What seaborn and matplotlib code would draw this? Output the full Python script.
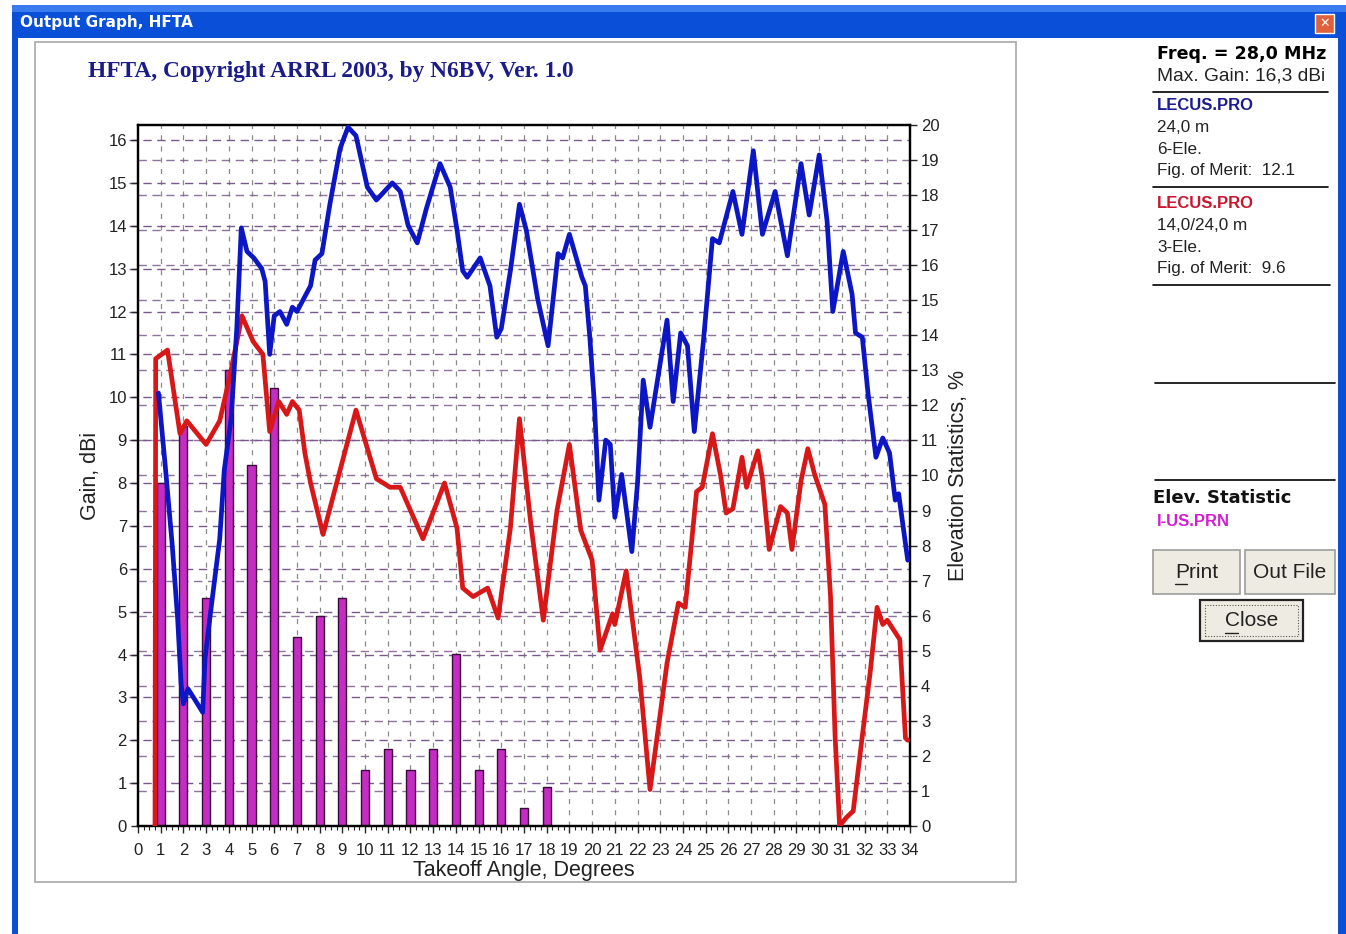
import numpy as np
import pandas as pd
import matplotlib
matplotlib.use("Agg")
import matplotlib.pyplot as plt
import matplotlib.transforms as mtransforms
from matplotlib.patches import Rectangle
from matplotlib.lines import Line2D
import seaborn as sns

# blue curve: 24,0 m 6-Ele. (gain, dBi vs takeoff angle)
blue_angle = [0.9, 1.2, 1.5, 1.75, 1.9, 2.0, 2.2, 2.5, 2.85, 2.95, 3.2, 3.6, 3.8, 4.1, 4.35,
              4.55, 4.8, 5.1, 5.45, 5.6, 5.8, 6.0, 6.25, 6.55, 6.8, 7.0, 7.6, 7.8, 8.1, 8.45,
              8.9, 9.25, 9.6, 10.1, 10.5, 11.2, 11.55, 11.9, 12.3, 12.7, 13.3, 13.75, 14.05,
              14.3, 14.5, 15.07, 15.5, 15.8, 16.0, 16.4, 16.8, 17.1, 17.6, 18.06, 18.5, 18.7,
              19.0, 19.55, 19.7, 19.9, 20.1, 20.3, 20.6, 20.8, 21.0, 21.3, 21.75, 22.0, 22.25,
              22.55, 23.3, 23.57, 23.9, 24.2, 24.5, 24.9, 25.3, 25.6, 26.2, 26.6, 27.1, 27.5,
              28.06, 28.6, 29.2, 29.56, 30.0, 30.35, 30.6, 31.06, 31.45, 31.6, 31.9, 32.15,
              32.5, 32.8, 33.1, 33.35, 33.5, 33.9]
blue_gain = [10.1, 8.4, 6.6, 4.8, 3.3, 2.85, 3.2, 2.95, 2.65, 3.9, 5.0, 6.7, 8.3, 9.5, 11.6,
             13.95, 13.4, 13.25, 13.0, 12.7, 11.0, 11.9, 12.0, 11.7, 12.1, 12.0, 12.6, 13.2, 13.35, 14.5,
             15.8, 16.3, 16.1, 14.9, 14.6, 15.0, 14.8, 14.0, 13.6, 14.4, 15.45, 14.9, 13.9,
             12.95, 12.8, 13.25, 12.6, 11.4, 11.6, 12.95, 14.5, 13.9, 12.3, 11.2, 13.35, 13.25,
             13.8, 12.8, 12.6, 11.4, 9.85, 7.6, 9.0, 8.9, 7.2, 8.2, 6.4, 8.0, 10.4,
             9.3, 11.8, 9.9, 11.5, 11.2, 9.2, 11.3, 13.7, 13.6, 14.8, 13.8, 15.75, 13.8,
             14.8, 13.3, 15.45, 14.25, 15.65, 14.1, 12.0, 13.4, 12.4, 11.5, 11.4, 10.1,
             8.6, 9.05, 8.7, 7.6, 7.75, 6.2]

# red curve: 14,0/24,0 m 3-Ele.
red_angle = [0.75, 0.78, 1.3, 1.85, 2.15, 3.0, 3.6, 4.05, 4.58, 5.07, 5.5, 5.8, 6.2, 6.55, 6.8,
             7.1, 7.35, 7.6, 8.15, 9.6, 10.5, 11.1, 11.55, 12.55, 13.5, 14.05, 14.3, 14.76, 15.4,
             15.86, 16.4, 16.8, 17.3, 17.85, 18.45, 19.0, 19.5, 20.0, 20.35, 20.9, 21.0, 21.5,
             22.1, 22.55, 23.3, 23.8, 24.1, 24.6, 24.85, 25.3, 25.65, 25.9, 26.2, 26.6, 26.8,
             27.3, 27.5, 27.8, 28.3, 28.6, 28.8, 29.2, 29.5, 29.8, 30.25, 30.5, 30.7, 30.9,
             31.2, 31.5, 31.9, 32.25, 32.55, 32.8, 33.0, 33.55, 33.8, 33.9]
red_gain = [0.0, 10.9, 11.1, 9.15, 9.45, 8.9, 9.45, 10.5, 11.9, 11.3, 11.0, 9.2, 9.9, 9.6, 9.9,
            9.7, 8.7, 8.0, 6.8, 9.7, 8.1, 7.9, 7.9, 6.7, 8.0, 6.95, 5.55, 5.35, 5.55,
            4.85, 6.95, 9.5, 7.05, 4.8, 7.35, 8.9, 6.9, 6.2, 4.1, 4.95, 4.7, 5.95,
            3.45, 0.85, 3.8, 5.2, 5.1, 7.8, 7.9, 9.15, 8.2, 7.3, 7.4, 8.6, 7.9,
            8.75, 8.1, 6.45, 7.45, 7.3, 6.45, 8.05, 8.8, 8.2, 7.5, 5.35, 2.1, 0.0,
            0.2, 0.35, 2.1, 3.6, 5.1, 4.7, 4.8, 4.35, 2.05, 2.0]

# elevation statistics, % (I-US.PRN)
elev_angle = list(range(1, 19))
elev_pct = [9.8, 11.4, 6.5, 13.0, 10.3, 12.5, 5.4, 6.0, 6.5, 1.6, 2.2, 1.6, 2.2, 4.9, 1.6, 2.2, 0.5, 1.1]

x_ticks = list(range(0, 35))
gain_ticks = list(range(0, 17))
pct_ticks = list(range(0, 21))

BLUE = "#0c16c4"
RED = "#d81818"
BAR = "#c42cc4"
GRID_H = "#7a5a8c"
GRID_V = "#8a8a8a"

sns.set_style("white")
plt.rcParams["font.family"] = ["Liberation Sans", "DejaVu Sans"]

W, H = 1346, 934
fig = plt.figure(figsize=(W / 100, H / 100), dpi=100)
fig.patch.set_facecolor("white")


def fx(x):
    return x / W


def fy(y):
    return 1 - y / H


def rect(x0, y0, x1, y1, **kw):
    r = Rectangle((fx(x0), fy(y1)), fx(x1) - fx(x0), fy(y0) - fy(y1),
                  transform=fig.transFigure, **kw)
    fig.add_artist(r)
    return r


def hline(x0, x1, y, **kw):
    fig.add_artist(Line2D([fx(x0), fx(x1)], [fy(y), fy(y)], transform=fig.transFigure, **kw))


# window chrome
rect(12, 5, W, H, facecolor="#0a4fd8", edgecolor="none", zorder=0.1)
rect(12, 5, W, 12, facecolor="#3a7cf0", edgecolor="none", zorder=0.15)
rect(18, 38, 1338, H, facecolor="white", edgecolor="none", zorder=0.2)
fig.text(fx(20), fy(23), "Output Graph, HFTA", color="white", fontsize=11,
         fontweight="bold", family="DejaVu Sans", va="center", ha="left")
rect(1315, 14, 1334, 33, facecolor="#e0603a", edgecolor="white", linewidth=1, zorder=0.3)
fig.text(fx(1324.5), fy(23.5), "\u2715", color="white", fontsize=9, family="DejaVu Sans",
         ha="center", va="center", fontweight="bold")

# chart panel
rect(35, 42, 1016, 882, facecolor="white", edgecolor="#a8a8a8", linewidth=1.2, zorder=0.5)
fig.text(fx(88), fy(72), "HFTA, Copyright ARRL 2003, by N6BV, Ver. 1.0", color="#1c1c88",
         fontsize=16.8, fontweight="bold", family="Liberation Serif", va="center", ha="left")

# axes: ax2 (bars, grid) below, ax (gain lines) on top
ax2 = fig.add_axes([fx(138), fy(826), fx(910) - fx(138), fy(125) - fy(826)])
ax = fig.add_axes(ax2.get_position(), sharex=ax2)
ax.set_zorder(6)
ax2.set_zorder(5)
ax.patch.set_visible(False)
ax2.patch.set_visible(False)

ax.set_xlim(0, 34)
ax.set_ylim(0, 16.35)
ax2.set_ylim(0, 20)

# grid on the bottom layer
for a in x_ticks[1:-1]:
    ax2.axvline(a, color=GRID_V, linestyle=(0, (4, 5)), linewidth=0.9, zorder=0)
tr = mtransforms.blended_transform_factory(ax2.transAxes, ax.transData)
for g in gain_ticks[1:]:
    ax2.plot([-0.012, 1], [g, g], transform=tr, color=GRID_H, linestyle=(0, (6, 4)),
             linewidth=1.0, zorder=0, clip_on=False)
for p in pct_ticks[1:-1]:
    ax2.axhline(p, color=GRID_H, linestyle=(0, (6, 4)), linewidth=1.0, zorder=0, alpha=0.85)

# bars
sns.barplot(x=elev_angle, y=elev_pct, native_scale=True, width=0.36, color=BAR,
            saturation=1, edgecolor="#3a0a3a", linewidth=1.0, errorbar=None, ax=ax2, zorder=2)

# lines
df_blue = pd.DataFrame({"angle": blue_angle, "gain": blue_gain})
df_red = pd.DataFrame({"angle": red_angle, "gain": red_gain})
sns.lineplot(data=df_red, x="angle", y="gain", color=RED, linewidth=3.4, estimator=None,
             sort=False, ax=ax, zorder=3)
sns.lineplot(data=df_blue, x="angle", y="gain", color=BLUE, linewidth=3.4, estimator=None,
             sort=False, ax=ax, zorder=4)

ax.set_xlim(0, 34)
ax.set_ylim(0, 16.35)
ax2.set_ylim(0, 20)

ax.set_xticks(x_ticks)
ax.set_xticks(np.arange(0, 34.01, 0.25), minor=True)
ax.set_xticklabels([str(t) for t in x_ticks], fontsize=12, color="#222222")
ax.set_yticks(gain_ticks)
ax.set_yticklabels([str(t) for t in gain_ticks], fontsize=12, color="#222222")
ax2.yaxis.tick_right()
ax2.yaxis.set_label_position("right")
ax2.set_yticks(pct_ticks)
ax2.set_yticklabels([str(t) for t in pct_ticks], fontsize=12, color="#222222")
ax2.tick_params(axis="x", bottom=False, labelbottom=False)
ax.tick_params(axis="both", which="major", direction="out", length=5, width=1, pad=3,
               left=True, bottom=True)
ax.tick_params(axis="x", which="major", pad=7)
ax.tick_params(axis="x", which="minor", direction="out", length=3, width=0.8, bottom=True)
ax2.tick_params(axis="y", direction="out", length=5, width=1, right=True, pad=3)

ax.set_xlabel("Takeoff Angle, Degrees", fontsize=15.5, color="#222222", labelpad=2)
ax.set_ylabel("Gain, dBi", fontsize=15.5, color="#222222", labelpad=5)
ax2.set_ylabel("Elevation Statistics, %", fontsize=15.5, color="#222222", labelpad=6)
ax2.set_xlabel("")

for a in (ax, ax2):
    for s in a.spines.values():
        s.set_color("black")
        s.set_linewidth(1.6)

# right info panel
fig.text(fx(1157), fy(54), "Freq. = 28,0 MHz", fontsize=12.6, fontweight="bold", color="black",
         family="DejaVu Sans", va="center", ha="left")
fig.text(fx(1157), fy(76), "Max. Gain: 16,3 dBi", fontsize=13.8, color="#222222", va="center", ha="left")
hline(1153, 1328, 92, color="black", linewidth=1.2)
fig.text(fx(1157), fy(106), "LECUS.PRO", fontsize=12, fontweight="bold", color="#1c1c90",
         va="center", ha="left")
fig.text(fx(1157), fy(128), "24,0 m", fontsize=12.3, color="#222222", va="center", ha="left")
fig.text(fx(1157), fy(149), "6-Ele.", fontsize=12.3, color="#222222", va="center", ha="left")
fig.text(fx(1157), fy(171), "Fig. of Merit:  12.1", fontsize=12.3, color="#222222", va="center", ha="left")
hline(1153, 1328, 187, color="black", linewidth=1.2)
fig.text(fx(1157), fy(204), "LECUS.PRO", fontsize=12, fontweight="bold", color="#c81830",
         va="center", ha="left")
fig.text(fx(1157), fy(226), "14,0/24,0 m", fontsize=12.3, color="#222222", va="center", ha="left")
fig.text(fx(1157), fy(247), "3-Ele.", fontsize=12.3, color="#222222", va="center", ha="left")
fig.text(fx(1157), fy(269), "Fig. of Merit:  9.6", fontsize=12.3, color="#222222", va="center", ha="left")
hline(1153, 1330, 285, color="black", linewidth=1.2)
hline(1155, 1335, 383, color="black", linewidth=1.2)
hline(1155, 1335, 480, color="black", linewidth=1.2)
fig.text(fx(1153), fy(498), "Elev. Statistic", fontsize=13, fontweight="bold", color="#111111",
         family="DejaVu Sans", va="center", ha="left")
fig.text(fx(1157), fy(521), "I-US.PRN", fontsize=12, fontweight="bold", color="#d020d0",
         va="center", ha="left")

# buttons
rect(1153, 550, 1240, 594, facecolor="#eeece2", edgecolor="#9c9c9c", linewidth=1.2, zorder=1)
fig.text(fx(1196.5), fy(572), "Print", fontsize=15, color="#222222", va="center", ha="center")
hline(1175, 1187, 584, color="#222222", linewidth=1)
rect(1245, 550, 1335, 594, facecolor="#eeece2", edgecolor="#9c9c9c", linewidth=1.2, zorder=1)
fig.text(fx(1290), fy(572), "Out File", fontsize=15, color="#222222", va="center", ha="center")
rect(1200, 600, 1303, 641, facecolor="#eeece2", edgecolor="#222222", linewidth=1.6, zorder=1)
rect(1205, 605, 1298, 636, facecolor="none", edgecolor="#555555", linewidth=0.8,
     linestyle=(0, (1, 1.5)), zorder=1.1)
fig.text(fx(1251.5), fy(621), "Close", fontsize=15, color="#222222", va="center", ha="center")
hline(1225, 1238, 633, color="#222222", linewidth=1)

fig.savefig("out.png", dpi=100, facecolor=fig.get_facecolor())
